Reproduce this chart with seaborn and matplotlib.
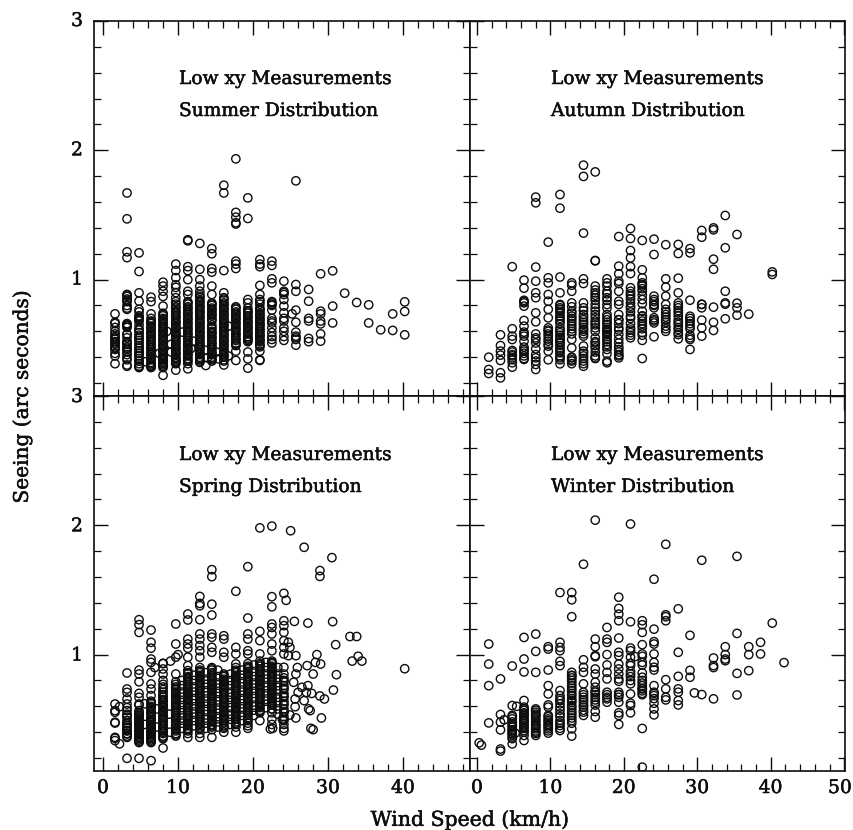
import matplotlib
matplotlib.use('Agg')
import matplotlib.pyplot as plt
import matplotlib.patheffects as pe
from matplotlib.ticker import MultipleLocator
import seaborn as sns
import pandas as pd

WIND_BINS = [1.6, 3.2, 4.8, 6.4, 8.0, 9.7, 11.3, 12.9, 14.5, 16.1, 17.7, 19.3, 20.9,
             22.5, 24.1, 25.7, 27.4, 29.0, 30.6, 32.2, 33.8, 35.4, 37.0, 38.6, 40.2, 41.8]

# seeing values, one list per wind bin
SUMMER = [
    [.35, .41, .43, .46, .48, .50, .52, .54, .56, .58, .60, .63, .66, .67, .735],
    [1.67, 1.47, 1.215, 1.17, .885, .87, .85, .83, .80, .78, .77, .66, .65, .64, .63, .58, .575, .55, .52, .50, .48, .46, .44, .42, .395, .38, .34, .33],
    [1.207, 1.063, .898, .834, .77, .75, .72, .70, .68, .65, .62, .59, .57, .55, .53, .51, .49, .47, .45, .43, .41, .39, .37, .35, .33, .32],
    [.864, .83, .735, .70, .68, .66, .64, .62, .60, .58, .56, .54, .52, .50, .48, .46, .44, .42, .40, .38, .36, .34, .33, .32],
    [.98, .95, .91, .87, .795, .74, .72, .70, .68, .66, .64, .62, .60, .58, .56, .54, .52, .50, .48, .46, .44, .42, .40, .38, .36, .34, .32, .26],
    [1.12, 1.07, 1.015, .96, .94, .90, .86, .83, .81, .78, .76, .74, .72, .70, .68, .66, .64, .62, .60, .58, .56, .54, .52, .50, .48, .46, .44, .42, .40, .38, .36, .30],
    [1.308, 1.30, 1.10, 1.07, 1.0, .91, .885, .83, .81, .79, .77, .75, .73, .71, .69, .67, .65, .63, .61, .59, .57, .55, .53, .51, .49, .47, .45, .43, .41, .39, .37, .35, .31],
    [1.28, 1.08, 1.0, .95, .91, .885, .86, .84, .82, .80, .78, .76, .74, .72, .70, .68, .66, .64, .62, .60, .58, .56, .54, .52, .50, .48, .46, .44, .42, .40, .38, .36],
    [1.24, 1.20, 1.086, 1.058, .95, .885, .82, .80, .78, .76, .74, .72, .70, .68, .65, .62, .60, .58, .56, .54, .52, .50, .48, .46, .44, .42, .40, .38, .37],
    [1.73, 1.67, 1.07, .898, .86, .84, .82, .80, .78, .76, .74, .72, .70, .68, .66, .64, .62, .60, .58, .56, .54, .52, .50, .48, .46, .44, .42, .40, .38, .34],
    [1.934, 1.52, 1.483, 1.44, 1.43, 1.143, 1.12, 1.086, .79, .77, .75, .73, .71, .69, .67, .65, .63, .61, .59, .57, .55, .53, .51, .49, .447, .375],
    [1.632, 1.473, .846, .82, .78, .76, .74, .72, .70, .68, .66, .64, .62, .60, .58, .56, .54, .52, .44, .387, .315],
    [1.155, 1.12, 1.10, .955, .885, .846, .83, .81, .78, .76, .74, .72, .70, .68, .66, .64, .62, .60, .58, .56, .54, .52, .50, .48, .447, .38, .375],
    [1.143, 1.11, 1.006, .975, .83, .82, .81, .80, .764, .70, .68, .665, .627, .59, .56, .537, .51],
    [.988, .91, .90, .885, .846, .795, .743, .70, .68, .627, .60, .56, .53],
    [1.764, .962, .91, .764, .67, .594, .563, .55, .537, .493],
    [.924, .833, .70, .68, .545, .52],
    [1.045, .756, .735, .68, .658, .58, .524],
    [1.068, .795, .665],
    [.895],
    [.823],
    [.805, .665],
    [.612],
    [.735, .607],
    [.828, .754, .573],
    [],
]
# second pass over the solid looking part of each column
SUMMER_FILL = [
    [.47, .51, .55], [.88, .84, .65, .51, .47], [.71, .69, .61, .55, .47, .43, .37, .33],
    [.67, .63, .59, .55, .51, .47, .43, .39, .35, .33],
    [.73, .69, .65, .61, .57, .53, .49, .45, .41, .37, .33, .35, .39],
    [.79, .75, .71, .67, .63, .59, .55, .51, .47, .43, .39, .37, .35],
    [.82, .78, .74, .70, .66, .62, .58, .54, .50, .46, .42, .38],
    [.87, .83, .79, .75, .71, .67, .63, .59, .55, .51, .47, .43, .39, .37],
    [.81, .77, .73, .69, .63, .59, .55, .51, .47, .43, .39],
    [.85, .81, .77, .73, .69, .65, .61, .57, .53, .49, .45, .41, .37],
    [.78, .74, .70, .66, .62, .58, .54, .50],
    [.75, .71, .67, .63, .59, .55, .53],
    [.77, .73, .69, .65, .61, .57, .53, .49],
    [], [], [], [], [], [], [], [], [], [], [], [], [],
]
summer_extra_wind = [7.5, 8.5, 9.1, 9.1, 10.6, 12.0, 11.7, 13.6, 13.7, 13.9, 15.1, 15.4, 16.7, 16.7, 25.2, 5.7]
summer_extra_seeing = [.43, .60, .50, .44, .594, .524, .467, .454, .336, .395, .44, .387, .64, .41, .735, .365]

AUTUMN = [
    [.40, .305, .274],
    [.573, .49, .447, .416, .375, .28, .24],
    [1.10, .62, .563, .537, .452, .42, .395, .357, .323],
    [.996, .934, .84, .82, .795, .684, .64, .594, .563, .524, .478, .447, .41, .383],
    [1.638, 1.594, 1.097, .988, .898, .86, .743, .674, .537, .51, .465, .395, .37, .344, .305],
    [1.29, 1.014, .975, .885, .833, .77, .705, .627, .60, .563, .524, .486, .447, .38],
    [1.658, 1.552, 1.02, .898, .808, .782, .756, .717, .68, .627, .59, .537, .51, .472, .434, .395, .349],
    [.975, .957, .91, .82, .756, .717, .68, .64, .60, .537, .472, .395, .37, .35],
    [1.885, 1.798, 1.36, 1.006, .97, .82, .782, .73, .69, .653, .614, .563, .486, .447, .41, .37, .33],
    [1.833, 1.148, 1.145, .95, .898, .86, .808, .756, .705, .665, .627, .55, .51, .472, .41, .395],
    [1.006, .975, .91, .86, .808, .73, .69, .653, .614, .575, .537, .498, .426, .37, .357],
    [1.333, 1.104, 1.045, .988, .91, .833, .808, .73, .69, .627, .575, .51, .46, .42, .395],
    [1.395, 1.318, 1.225, 1.168, 1.10, 1.047, .937, .91, .872, .795, .717, .627, .59, .55],
    [1.303, 1.076, 1.014, .975, .962, .91, .846, .813, .756, .717, .68, .64, .59, .53, .39],
    [1.313, 1.194, .872, .846, .808, .782, .705, .665, .558],
    [1.27, 1.006, .942, .872, .808, .77, .73, .69, .64, .60],
    [1.272, 1.202, 1.011, .898, .82, .782, .743, .69, .653, .614, .575, .542],
    [1.24, 1.207, .841, .717, .68, .64, .57, .537, .46],
    [1.38, 1.328, .808, .782, .687, .627, .563],
    [1.40, 1.385, 1.158, 1.08, .787, .67, .607],
    [1.496, 1.246, .91, .82, .697],
    [1.349, .818, .782, .725],
    [.733],
    [],
    [1.06, 1.04],
    [],
]
AUTUMN_FILL = [
    [], [], [.44, .41, .38], [.83, .58, .46, .43, .39], [.58, .55, .42],
    [.61, .58, .54, .50], [.80, .77, .74, .70, .66, .61, .57, .55, .52, .49, .45, .41, .38],
    [.79, .74, .70, .66, .62, .58, .40, .38], [.76, .71, .67, .63, .60, .58, .43, .39, .35],
    [.92, .88, .84, .78, .73, .68, .65, .60, .52, .49, .44, .39],
    [.95, .89, .84, .78, .71, .67, .63, .60, .59, .56, .52, .48, .46],
    [.97, .69, .66, .61, .54, .48, .44, .41], [.89, .85, .82, .78, .75, .70, .66, .61, .57],
    [.95, .93, .88, .72, .70, .66, .62, .57], [.83, .80, .69, .68], [.75, .71, .67, .62],
    [.80, .76, .72, .67, .63, .59], [.70, .66, .62, .55], [.81], [], [.81], [], [], [], [], [],
]

SPRING = [
    [.618, .567, .471, .36, .335, .554, .477, .353],
    [.858, .734, .708, .657, .618, .567, .54, .515, .49, .464, .438, .412, .386, .36, .198],
    [1.27, 1.232, 1.172, .88, .85, .79, .70, .67, .618, .567, .54, .52, .50, .48, .46, .44, .42, .40, .38, .36, .34, .32, .198],
    [1.19, 1.095, 1.05, .966, .94, .863, .773, .734, .683, .64, .62, .60, .58, .56, .54, .52, .50, .48, .46, .44, .42, .40, .38, .36, .34, .32, .18],
    [.933, .889, .85, .80, .77, .75, .73, .71, .69, .67, .65, .63, .61, .59, .57, .55, .53, .51, .49, .47, .45, .43, .41, .39, .37, .35, .278],
    [1.237, 1.082, .98, .85, .79, .77, .75, .73, .71, .69, .67, .65, .63, .61, .59, .57, .55, .53, .51, .49, .47, .45, .43, .41, .39, .37],
    [1.314, 1.268, 1.12, 1.082, 1.05, .98, .915, .876, .85, .83, .81, .79, .77, .75, .73, .71, .69, .67, .65, .63, .61, .59, .57, .55, .53, .51, .49, .47, .45, .43, .41, .39, .36],
    [1.45, 1.396, 1.378, 1.27, 1.16, 1.12, 1.07, 1.03, .98, .90, .88, .86, .84, .82, .80, .78, .76, .74, .72, .70, .68, .66, .64, .62, .60, .58, .56, .54, .52, .50, .48, .46, .44, .42, .39, .36],
    [1.657, 1.603, 1.39, 1.306, 1.16, 1.134, 1.056, 1.018, .90, .88, .86, .84, .82, .80, .78, .76, .74, .72, .70, .68, .66, .64, .62, .60, .58, .56, .54, .52, .50, .48, .46, .44, .42, .36],
    [1.146, 1.12, 1.018, .98, .85, .83, .81, .79, .77, .75, .73, .71, .69, .67, .65, .63, .61, .59, .57, .55, .53, .51, .49, .47, .45, .43, .40],
    [1.49, 1.056, 1.005, .928, .90, .88, .86, .84, .82, .80, .78, .76, .74, .72, .70, .68, .66, .64, .62, .60, .58, .56, .54, .52, .50, .48, .46, .44, .40],
    [1.68, 1.283, 1.16, 1.12, 1.03, 1.005, .93, .91, .89, .87, .85, .83, .81, .79, .77, .75, .73, .71, .69, .67, .65, .63, .61, .59, .57, .55, .53, .51, .49, .47, .45, .43],
    [1.98, 1.18, 1.108, 1.005, .95, .93, .91, .89, .87, .85, .83, .81, .79, .77, .75, .73, .71, .69, .67, .65, .63, .61, .59, .57, .55, .49],
    [1.994, 1.448, 1.37, 1.237, 1.21, 1.16, 1.082, 1.03, .95, .93, .91, .89, .87, .85, .83, .81, .79, .77, .75, .73, .71, .69, .67, .65, .63, .61, .58, .55, .50, .46],
    [1.474, 1.262, 1.224, 1.172, 1.108, 1.056, 1.005, .902, .85, .82, .79, .76, .73, .70, .67, .64, .61, .58, .55, .52, .49, .46, .43, .41],
    [], [], [], [], [], [], [], [], [], [], [],
]
SPRING_FILL = [
    [], [.59, .53, .47, .45, .43, .41, .39, .37], [.61, .55, .53, .51, .49, .47, .45, .43, .41, .39, .37, .35, .33],
    [.63, .59, .55, .51, .49, .47, .45, .43, .41, .39, .37, .35, .33],
    [.68, .64, .60, .56, .52, .48, .44, .40, .36], [.74, .70, .66, .62, .58, .54, .50, .46, .42, .38],
    [.86, .82, .78, .74, .70, .66, .62, .58, .54, .50, .46, .42],
    [.87, .83, .79, .75, .71, .67, .63, .59, .55, .51, .47, .43],
    [.89, .85, .81, .77, .73, .69, .65, .61, .57, .53, .49, .45],
    [.84, .80, .76, .72, .68, .64, .60, .56, .52, .48, .44],
    [.87, .83, .79, .75, .71, .67, .63, .59, .55, .51, .47],
    [.90, .86, .82, .78, .74, .70, .66, .62, .58, .54, .50],
    [.92, .88, .84, .80, .76, .72, .68, .64, .60, .56],
    [.94, .90, .86, .82, .78, .74, .70, .66, .62, .58],
    [.80, .74, .68, .62, .56, .50], [], [], [], [], [], [], [], [], [], [], [],
]
# points that sit between the bins, mostly the crowded middle of the panel
SPRING_BETWEEN_WIND = [10.5, 12.1, 13.7, 15.3, 17.0, 18.5, 20.1, 21.7, 23.3]
SPRING_BETWEEN = [
    [.80, .76, .71, .67, .63, .59, .55, .51, .47, .43],
    [.84, .80, .75, .71, .66, .62, .58, .54, .49, .45],
    [.86, .81, .77, .72, .68, .64, .60, .56, .51, .47, .43],
    [.88, .83, .78, .74, .70, .65, .61, .57, .52, .48, .44],
    [.85, .80, .76, .71, .67, .63, .59, .54, .50, .46],
    [.88, .84, .79, .75, .71, .66, .62, .58, .53, .49],
    [.92, .87, .83, .78, .74, .70, .66, .61, .57, .53],
    [.94, .90, .85, .81, .76, .72, .68, .64, .59],
    [.90, .85, .81, .76, .72, .67, .63, .58, .54],
]
spring_extra_wind = [2.2, 2.2, 25.0, 26.8, 28.9, 30.5, 27.3, 28.9, 24.4, 25.5, 34.0, 33.8, 31.0, 33.2,
                     32.9, 34.5, 40.2, 30.6, 31.1, 30.7, 29.5, 28.9, 29.1, 27.7, 28.0, 28.3, 29.0,
                     28.0, 27.3, 27.2, 28.5, 25.7, 25.9, 25.7, 25.4, 26.0, 25.6, 25.6, 25.7, 26.5,
                     26.8, 27.4, 27.6, 27.1, 27.8, 24.7, 24.9, 24.7, 24.9, 23.9, 22.3, 22.6,
                     5.6, 5.5, 7.2, 7.1, 8.8, 8.9, 9.0, 10.0, 8.0, 6.9]
spring_extra_seeing = [.597, .31, 1.958, 1.83, 1.65, 1.75, 1.244, 1.605, 1.42, 1.257, .987, 1.14, 1.077, .95,
                       1.14, .95, .891, 1.255, .845, .726, .657, .68, .51, .43, .42, .94, .927,
                       .85, .76, .915, 1.0, .992, .90, .85, .786, .708, .657, .597, .51, .747,
                       .644, .58, .567, .708, .70, 1.095, 1.056, .992, .533, .50, .425, .43,
                       .62, .46, .58, .44, .54, .40, .95, 1.0, .93, .90]

WINTER = [
    [1.082, .927, .76, .472],
    [.812, .537, .478, .418, .27, .254],
    [.912, .606, .53, .503, .465, .44, .413, .388, .362, .31],
    [1.133, .966, .866, .645, .594, .568, .542, .516, .49, .465, .44, .413, .375, .336],
    [1.159, 1.025, .863, .58, .555, .53, .503, .478, .452, .426, .40, .375],
    [1.061, 1.043, .881, .76, .696, .611, .594, .53, .503, .478, .452, .426, .393],
    [1.48, 1.095, 1.056, 1.03, .948, .915, .722, .683, .645, .594, .542, .49, .452, .413],
    [1.48, 1.424, 1.293, .863, .837, .80, .76, .722, .683, .645, .606, .568, .53, .49, .426, .37],
    [1.699, .96, .902, .863, .774, .709, .67, .632, .594, .555, .53],
    [2.04, 1.12, 1.061, .992, .984, .889, .85, .786, .748, .709, .67, .632, .56, .516],
    [1.21, 1.12, 1.095, 1.0, .92, .863, .812, .709, .658, .632],
    [1.444, 1.357, 1.313, 1.262, 1.128, 1.018, .992, .927, .889, .85, .812, .794, .709, .691, .632, .55, .53, .46],
    [2.01, 1.254, 1.051, 1.03, .98, .933, .915, .85, .80, .774, .696, .624, .606, .55],
    [1.262, 1.231, 1.172, 1.077, 1.005, .987, .94, .92, .858, .825, .80, .76, .735, .70, .429, .13],
    [1.583, 1.197, 1.10, 1.082, 1.005, .94, .902, .881, .76, .709, .683, .624, .58, .534],
    [1.853, 1.308, 1.293, 1.262, .806, .735, .67, .65],
    [1.354, 1.018, .832, .735, .709, .645, .611],
    [1.149, .878, .825],
    [1.73, .691],
    [.974, .915, .90, .658],
    [1.061, 1.0, .966, .953],
    [1.76, 1.164, .855, .688],
    [1.061, 1.0, .876],
    [1.095, 1.005],
    [1.244],
    [.938],
]
WINTER_FILL = [
    [], [], [.52, .48, .45, .42, .40, .38, .35], [.58, .55, .53, .50, .48, .45, .43, .40],
    [.57, .54, .52, .49, .46, .44, .41, .39], [.52, .49, .46, .44, .41], [.66, .62, .57, .52, .47, .43],
    [.84, .82, .78, .74, .70, .66, .63, .59, .55, .51, .47], [.69, .65, .61, .57],
    [.72, .69, .65, .61], [.69, .67], [.69, .67], [.87, .83], [.78, .74, .72, .69], [.70, .66],
    [], [], [], [], [], [], [], [], [], [], [],
]
winter_extra_wind = [.3, .6, 3.7, 5.4, 5.2, 21.5, 29.6]
winter_extra_seeing = [.318, .30, .496, .60, .393, .985, .704]

PANEL_TITLES = ['Summer Distribution', 'Autumn Distribution', 'Spring Distribution', 'Winter Distribution']
X_TICKS_LEFT = [0, 10, 20, 30, 40]
X_TICKS_RIGHT = [0, 10, 20, 30, 40, 50]
Y_TICKS = [1, 2, 3]

W, H = 854, 830
INK = '#0d0d0d'


def make_frame(columns, fill, extra_wind=(), extra_seeing=()):
    wind, seeing = [], []
    for w, vals, more in zip(WIND_BINS, columns, fill):
        wind += [w] * (len(vals) + len(more))
        seeing += vals + more
    wind += list(extra_wind)
    seeing += list(extra_seeing)
    return pd.DataFrame({'wind': wind, 'seeing': seeing})


def add_axes_px(left, top, right, bottom):
    return fig.add_axes([left / W, 1 - bottom / H, (right - left) / W, (bottom - top) / H])


def fig_text(x, y, s, stroke=0.35, **kw):
    t = fig.text(x / W, 1 - y / H, s, family='DejaVu Serif', color=INK, **kw)
    t.set_path_effects([pe.withStroke(linewidth=stroke, foreground=INK)])


sns.set_theme(style='ticks')
plt.rcParams['font.family'] = ['DejaVu Serif']

fig = plt.figure(figsize=(W / 100, H / 100), dpi=100, facecolor='white')

spring_df = make_frame(SPRING, SPRING_FILL, spring_extra_wind, spring_extra_seeing)
between = [(w, v) for w, vals in zip(SPRING_BETWEEN_WIND, SPRING_BETWEEN) for v in vals]
spring_df = pd.concat([spring_df, pd.DataFrame(between, columns=['wind', 'seeing'])])

panels = [
    (make_frame(SUMMER, SUMMER_FILL, summer_extra_wind, summer_extra_seeing), (94, 21, 470, 396), (-1.2, 48.9)),
    (make_frame(AUTUMN, AUTUMN_FILL), (470, 21, 845, 396), (-0.95, 50.1)),
    (spring_df, (94, 396, 470, 771), (-1.2, 48.9)),
    (make_frame(WINTER, WINTER_FILL, winter_extra_wind, winter_extra_seeing), (470, 396, 845, 771), (-0.95, 50.1)),
]

for i, (df, box, xlim) in enumerate(panels):
    ax = add_axes_px(*box)
    sns.scatterplot(data=df, x='wind', y='seeing', ax=ax, marker='o', s=36,
                    facecolor='none', edgecolor=INK, linewidth=1.0, clip_on=True)
    ax.set_xlim(*xlim)
    ax.set_ylim(0.1, 3.0)
    ax.set_xlabel('')
    ax.set_ylabel('')
    ax.xaxis.set_major_locator(MultipleLocator(10))
    ax.xaxis.set_minor_locator(MultipleLocator(2))
    ax.yaxis.set_major_locator(MultipleLocator(1))
    ax.yaxis.set_minor_locator(MultipleLocator(0.2))
    ax.tick_params(which='major', direction='in', top=True, right=True, length=10, width=1.0, color=INK)
    ax.tick_params(which='minor', direction='in', top=True, right=True, length=5, width=0.9, color=INK)
    ax.tick_params(labelbottom=False, labelleft=False)
    for sp in ax.spines.values():
        sp.set_visible(True)
        sp.set_linewidth(1.2)
        sp.set_color(INK)

    cx = 179 if i % 2 == 0 else 551
    cy = 79 if i < 2 else 455
    fig_text(cx, cy, 'Low xy Measurements', fontsize=13.4, va='center', ha='left')
    fig_text(cx, cy + 32, PANEL_TITLES[i], fontsize=13.4, va='center', ha='left')

# tick labels are placed by hand because the panels share one frame
for t in X_TICKS_LEFT:
    fig_text(103 + 7.5 * t, 788, str(t), fontsize=13.5, ha='center', va='center')
for t in X_TICKS_RIGHT:
    # the last label would run off the right edge
    fig_text(min(477 + 7.34 * t, 840), 788, str(t), fontsize=13.5, ha='center', va='center')
for t in Y_TICKS:
    fig_text(77, 21 + (3 - t) * 129.3, str(t), fontsize=13.5, ha='center', va='center')
    fig_text(77, 397 + (3 - t) * 129.3, str(t), fontsize=13.5, ha='center', va='center')

fig_text(22, 397, 'Seeing (arc seconds)', fontsize=14.5, rotation=90, ha='center', va='center')
fig_text(470, 820, 'Wind Speed (km/h)', fontsize=14.7, ha='center', va='center')

fig.savefig('out.png', dpi=100, facecolor='white')
plt.close(fig)
